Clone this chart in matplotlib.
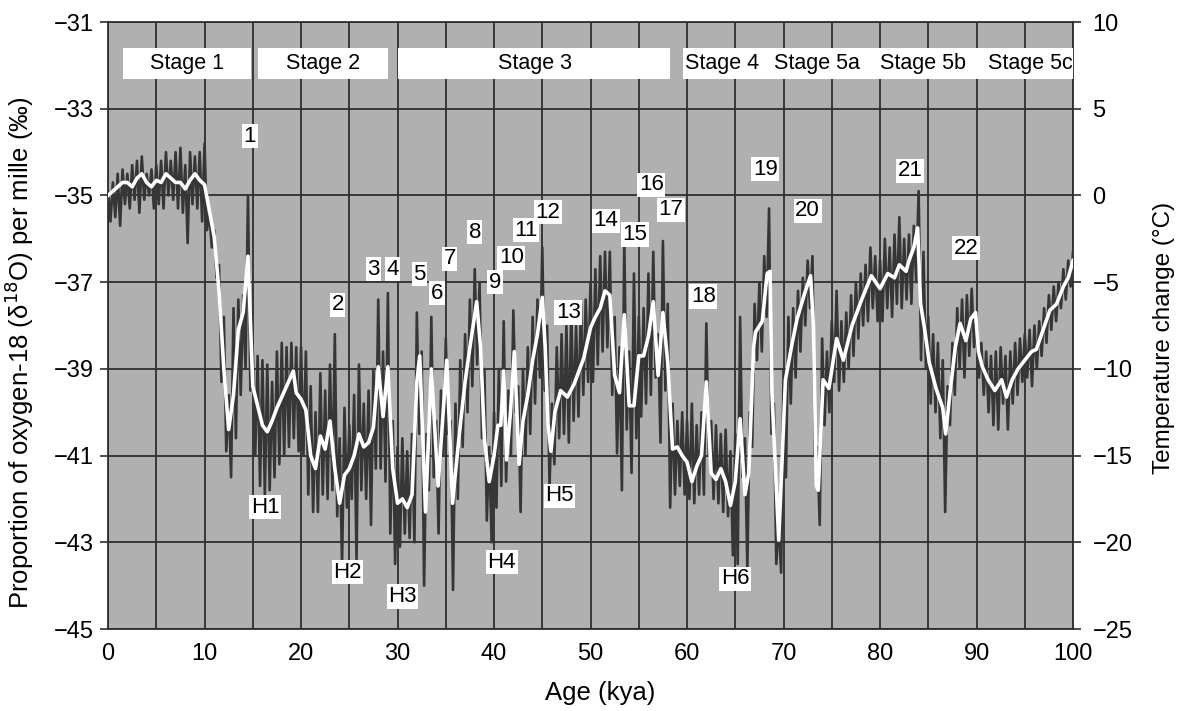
import numpy as np
import matplotlib
matplotlib.use("Agg")
import matplotlib.pyplot as plt
from matplotlib.patches import Rectangle

plt.rcParams['font.family'] = ['Liberation Sans', 'DejaVu Sans']

# ---------------- data ----------------
# raw record: upper spikes at 0, 0.5, ... 100 kya ; lower spikes at 0.25, 0.75, ... 99.75 kya
raw_hi = [
    -34.9, -34.7, -34.5, -34.4, -34.5, -34.3, -34.2, -34.1, -34.5, -34.4, -34.3, -34.2, -34.0, -34.2, -34.0, -33.9, -34.3, -34.0, -34.1, -34.0,
    -33.8, -35.4, -35.8, -36.6, -37.8, -39.6, -37.6, -37.4, -37.3, -35.0, -38.6, -38.7, -38.8, -38.9, -39.3, -38.6, -38.4, -38.5, -38.4, -38.5,
    -38.5, -38.6, -39.4, -40.0, -39.1, -39.5, -38.9, -38.2, -40.6, -39.9, -40.3, -39.6, -38.9, -39.8, -39.5, -39.0, -37.4, -38.6, -37.25, -40.2,
    -40.8, -40.6, -40.9, -40.5, -37.7, -38.6, -40.5, -37.8, -40.2, -39.5, -38.3, -40.2, -39.8, -38.8, -38.2, -37.4, -36.7, -37.0, -39.0, -40.8,
    -40.0, -39.0, -37.9, -39.5, -37.65, -39.4, -39.0, -38.5, -37.8, -37.4, -36.2, -38.0, -39.8, -38.5, -38.2, -38.0, -37.6, -38.0, -37.5, -37.4,
    -37.0, -36.7, -36.4, -36.3, -36.3, -37.8, -38.5, -36.05, -38.6, -36.8, -37.8, -37.6, -36.8, -36.3, -38.2, -36.05, -37.5, -39.8, -40.2, -40.0,
    -40.2, -39.8, -40.3, -40.0, -37.95, -40.2, -40.3, -40.5, -40.4, -40.9, -40.5, -37.8, -40.6, -40.0, -37.5, -37.0, -36.4, -35.3, -39.8, -42.5,
    -39.0, -37.8, -37.6, -37.2, -36.9, -36.5, -36.4, -40.8, -38.3, -38.6, -37.9, -37.2, -37.9, -37.7, -37.3, -37.0, -36.8, -36.6, -36.2, -36.4,
    -36.5, -36.0, -36.2, -35.9, -35.5, -36.0, -35.9, -35.7, -34.9, -36.3, -37.8, -38.2, -38.4, -38.8, -39.4, -38.4, -37.6, -37.4, -37.3, -37.15,
    -37.8, -38.4, -38.6, -38.7, -38.6, -38.5, -38.7, -38.6, -38.4, -38.3, -38.2, -38.1, -38.0, -37.9, -37.6, -37.3, -37.1, -37.0, -36.7, -36.5,
    -36.3,
]
raw_lo = [
    -35.6, -35.5, -35.7, -35.2, -35.3, -35.1, -35.4, -35.1, -35.0, -35.3, -35.2, -35.3, -35.0, -35.1, -35.3, -35.4, -36.1, -35.2, -35.3, -35.6,
    -35.8, -36.2, -36.9, -39.3, -40.9, -41.5, -40.6, -39.6, -39.0, -39.5, -41.0, -41.7, -41.9, -41.8, -41.5, -41.2, -41.0, -40.8, -40.6, -40.9,
    -41.0, -41.9, -42.3, -42.3, -41.9, -42.0, -41.8, -42.4, -43.5, -42.2, -42.0, -43.4, -41.8, -42.0, -42.6, -41.3, -41.3, -41.6, -42.8, -43.5,
    -43.1, -42.8, -42.9, -43.0, -40.5, -44.0, -41.8, -41.5, -42.8, -41.0, -40.5, -44.1, -42.0, -40.8, -40.0, -39.4, -38.9, -40.6, -42.5, -43.0,
    -42.2, -41.7, -41.6, -41.0, -40.0, -42.3, -41.0, -40.5, -39.8, -39.2, -39.5, -41.7, -41.2, -40.6, -40.5, -40.7, -40.2, -40.1, -39.6, -39.3,
    -39.3, -38.9, -38.6, -38.5, -39.6, -40.95, -41.8, -40.4, -41.4, -40.6, -40.1, -39.8, -39.6, -39.2, -40.7, -39.5, -42.2, -41.9, -41.7, -41.9,
    -42.0, -42.1, -41.9, -41.9, -41.0, -42.0, -42.1, -42.3, -42.4, -43.3, -43.5, -41.5, -43.6, -40.8, -38.8, -38.6, -37.8, -40.5, -43.5, -43.7,
    -41.5, -39.8, -39.2, -38.6, -38.0, -37.6, -41.0, -42.6, -40.3, -40.0, -39.3, -39.5, -39.3, -39.0, -38.7, -38.3, -38.0, -37.9, -37.6, -37.9,
    -37.9, -37.6, -37.8, -37.5, -37.6, -37.4, -37.5, -37.0, -38.8, -39.0, -39.8, -40.0, -40.6, -42.3, -40.3, -39.6, -39.0, -39.2, -38.7, -38.5,
    -39.2, -39.6, -40.0, -40.3, -40.4, -39.8, -40.4, -39.8, -39.6, -39.3, -39.2, -39.4, -39.0, -38.7, -38.4, -38.1, -37.9, -37.6, -37.4, -37.1,
]

smooth_age = [
    0, 0.5, 1, 1.5, 2, 2.5, 3, 3.5, 4, 4.5, 5, 5.5, 6, 6.5, 7, 7.5, 8, 8.5, 9, 9.5,
    10, 10.5, 11, 11.5, 12, 12.5, 13, 13.5, 14, 14.5, 15, 15.5, 16, 16.5, 17, 17.5, 18, 18.5, 19.2, 19.5,
    20, 20.5, 21, 21.5, 22, 22.5, 23, 23.5, 24, 24.5, 25, 25.5, 26, 26.5, 27, 27.5, 28, 28.5, 29, 29.5,
    30, 30.5, 31, 31.5, 32.0, 32.3, 32.9, 33.5, 34.2, 35.1, 35.7, 36.0, 36.5, 37.0, 37.5, 38.2, 38.6, 39.0, 39.5,
    40.0, 40.4, 40.7, 41.0, 41.3, 41.7, 42.1, 42.6, 43.0, 43.5, 44.0, 44.5, 45.0, 45.3, 45.6, 45.9, 46.3, 46.9, 47.6, 48.3, 49.3,
    50.0, 50.5, 51, 51.5, 52, 52.5, 53, 53.5, 54, 54.5, 55, 55.5, 56, 56.5, 57, 57.5, 58, 58.5, 59, 59.5,
    60, 60.5, 61, 61.5, 62, 62.5, 63, 63.5, 64, 64.5, 65, 65.5, 66, 66.4, 66.9, 67.1, 67.8, 68.3, 68.6, 68.8, 69.5,
    70.2, 70.9, 71.4, 72.2, 72.8, 73.1, 73.4, 73.6, 74.1, 74.7, 75.5, 76.2, 77.1, 78.1, 79.1,
    80, 80.8, 81.5, 82.0, 82.7, 83.0, 83.5, 83.9, 84.2, 84.6, 85.1, 85.8, 86.5, 86.8, 87.3, 87.8, 88.3, 88.9, 89.4, 89.9,
    90.2, 90.6, 91.2, 91.9, 92.6, 93.1, 93.7, 94.3, 95.0, 95.7, 96.2, 96.9, 97.6, 98.3, 99.0, 99.5, 100,
]
smooth_d18o = [
    -35.0, -34.9, -34.8, -34.7, -34.7, -34.8, -34.6, -34.5, -34.7, -34.8, -34.65, -34.7, -34.5, -34.6, -34.7, -34.7, -34.85, -34.65, -34.5, -34.65,
    -34.75, -35.35, -35.95, -37.2, -39.0, -40.4, -39.6, -38.1, -37.7, -36.4, -39.4, -39.85, -40.3, -40.45, -40.2, -39.9, -39.65, -39.4, -39.05, -39.55,
    -39.7, -39.95, -41.0, -41.3, -40.55, -40.85, -40.2, -41.3, -42.1, -41.45, -41.3, -41.0, -40.5, -40.8, -40.7, -40.35, -38.95, -40.1, -38.95, -41.3,
    -42.1, -42.0, -42.2, -41.9, -39.3, -38.7, -42.3, -39.0, -41.7, -38.8, -42.1, -41.4, -40.3, -39.3, -38.5, -37.45, -38.5, -40.6, -41.6,
    -41.0, -40.3, -40.3, -39.05, -41.1, -40.0, -38.6, -41.2, -40.2, -39.6, -38.8, -38.2, -37.35, -38.5, -40.3, -40.9, -40.0, -39.5, -39.65, -39.35, -38.75,
    -38.05, -37.8, -37.6, -37.2, -37.3, -39.15, -39.55, -37.75, -39.85, -39.85, -38.7, -38.7, -38.25, -37.45, -39.15, -37.7, -38.85, -40.85, -40.8, -41.0,
    -41.15, -41.6, -41.25, -41.0, -39.3, -41.4, -41.55, -41.3, -41.6, -42.15, -41.6, -40.15, -41.9, -41.4, -38.5, -38.15, -37.9, -36.8, -36.75, -39.55, -42.95,
    -39.25, -38.4, -37.85, -37.25, -36.85, -38.0, -41.7, -41.8, -39.25, -39.45, -38.3, -38.8, -38.0, -37.4, -36.85,
    -37.15, -36.8, -36.9, -36.6, -36.75, -36.5, -36.2, -35.75, -37.5, -38.05, -38.85, -39.45, -39.9, -40.5, -39.45, -38.5, -37.95, -38.35, -37.85, -37.7,
    -38.6, -38.95, -39.25, -39.5, -39.25, -39.65, -39.25, -39.0, -38.8, -38.6, -38.55, -38.1, -37.65, -37.5, -37.1, -36.9, -36.5,
]

stage_names = ["Stage 1", "Stage 2", "Stage 3", "Stage 4", "Stage 5a", "Stage 5b", "Stage 5c"]
event_names = [str(i) for i in range(1, 23)] + ["H1", "H2", "H3", "H4", "H5", "H6"]

x_ticks = list(range(0, 101, 10))
left_ticks = [-45, -43, -41, -39, -37, -35, -33, -31]
right_ticks = [-25, -20, -15, -10, -5, 0, 5, 10]

# ---------------- layout (positions of annotations) ----------------
stage_boxes = [(1.5, 14.8), (15.55, 29.0), (30.05, 58.2), (59.6, 100.0)]
stage_text_x = [8.2, 22.3, 44.2, 63.6, 73.5, 84.5, 95.6]
event_xy = [
    (14.7, -33.63), (23.8, -37.52), (27.5, -36.7), (29.5, -36.7), (32.3, -36.82), (34.1, -37.25),
    (35.4, -36.46), (38.0, -35.85), (40.1, -37.0), (41.8, -36.44), (43.3, -35.8), (45.6, -35.39),
    (47.7, -37.7), (51.6, -35.58), (54.6, -35.9), (56.3, -34.75), (58.3, -35.33), (61.7, -37.33),
    (68.1, -34.39), (72.5, -35.35), (83.1, -34.43), (88.9, -36.22),
    (16.3, -42.19), (24.8, -43.69), (30.5, -44.25), (40.8, -43.46), (46.8, -41.93), (65.0, -43.84),
]

# ---------------- drawing ----------------
fig = plt.figure(figsize=(11.9, 7.11), dpi=100)
ax = fig.add_axes([0.0908, 0.1153, 0.8109, 0.8537])
bg = '#b0b0b0'
grid_c = '#2e2e2e'
ax.set_facecolor(bg)

raw_age = np.arange(len(raw_hi) + len(raw_lo)) * 0.25
raw = np.empty(len(raw_age))
raw[0::2] = raw_hi
raw[1::2] = raw_lo
ax.plot(raw_age, raw, color='#363636', lw=1.9, zorder=3)
ax.plot(smooth_age, smooth_d18o, color='white', lw=2.6, zorder=4, solid_joinstyle='round')

ax.set_xlim(0, 100)
ax.set_ylim(-45, -31)
ax.set_xticks(x_ticks)
ax.set_xticks(range(5, 100, 10), minor=True)
ax.set_yticks(left_ticks)
ax.grid(True, which='both', axis='x', color=grid_c, lw=1.3, zorder=1)
ax.grid(True, which='major', axis='y', color=grid_c, lw=1.3, zorder=1)
ax.set_axisbelow(True)
ax.tick_params(axis='x', which='both', length=0, pad=10, labelsize=17)
ax.tick_params(axis='y', length=6, width=1.2, color=grid_c, pad=4, labelsize=17)
for s in ax.spines.values():
    s.set_color(grid_c)
    s.set_linewidth(1.3)

ax.set_xlabel("Age (kya)", fontsize=18.5)
ax.set_ylabel("Proportion of oxygen-18 (δ$^{18}$O) per mille (‰)", fontsize=18.5)
ax.yaxis.set_label_coords(-0.075, 0.455)
ax.xaxis.set_label_coords(0.51, -0.085)

ax2 = ax.twinx()
ax2.set_ylim(-25, 10)
ax2.set_yticks(right_ticks)
ax2.tick_params(axis='y', length=6, width=1.2, color=grid_c, pad=8, labelsize=17)
ax2.set_ylabel("Temperature change (°C)", fontsize=17.5)
ax2.yaxis.set_label_coords(1.083, 0.48)
for s in ax2.spines.values():
    s.set_visible(False)

# stage boxes
for x0, x1 in stage_boxes:
    ax.add_patch(Rectangle((x0, -32.32), x1 - x0, 0.72, facecolor='white',
                           edgecolor='none', zorder=5, clip_on=False))
for name, xt in zip(stage_names, stage_text_x):
    ax.text(xt, -31.96, name, ha='center', va='center', fontsize=15.5, zorder=6)

# event labels
for name, (xe, ye) in zip(event_names, event_xy):
    ax.text(xe, ye, name, ha='center', va='center', fontsize=16, zorder=6,
            bbox=dict(facecolor='white', edgecolor='none', pad=1.2))

fig.savefig("out.png", dpi=100)
